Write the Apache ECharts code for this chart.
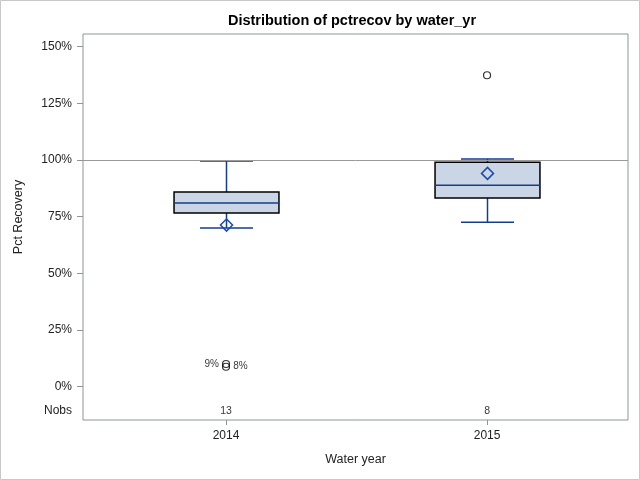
<!DOCTYPE html>
<html>
<head>
<meta charset="utf-8">
<script src="https://cdn.jsdelivr.net/npm/echarts@6/dist/echarts.min.js"></script>
<style>html,body{margin:0;padding:0;background:#fff}#c{width:640px;height:480px}</style>
</head>
<body>
<div id="c"></div>
<script>
// ---- data ----
var categories = ['2014', '2015'];
var whiskerLow = [70.0, 72.5];
var q1 = [76.6, 83.2];
var median = [81.0, 88.9];
var q3 = [85.9, 99.0];
var whiskerHigh = [99.6, 100.5];
var means = [71.3, 94.1];
var nobs = [13, 8];
var outlierCat = [0, 0, 1];
var outlierVal = [10.0, 8.8, 137.4];
var outlierLabel = ['9%', '8%', ''];
var outlierLabelPos = ['left', 'right', 'right'];
var yTicks = [0, 25, 50, 75, 100, 125, 150];
var refLine = 100;
var nobsRow = -10.7;

// ---- build ----
var FONT = '"Liberation Sans", Arial, sans-serif';
var BLUE = '#123E8E';
var boxData = categories.map(function (c, i) {
  return [i, whiskerLow[i], q1[i], median[i], q3[i], whiskerHigh[i], means[i]];
});
var outData = outlierVal.map(function (v, i) {
  return {
    value: [outlierCat[i], v],
    label: { show: outlierLabel[i] !== '', formatter: outlierLabel[i], position: outlierLabelPos[i] }
  };
});
var nobsData = nobs.map(function (n, i) { return { value: [i, nobsRow], label: { formatter: String(n) } }; });

function renderBox(params, api) {
  var x = api.value(0);
  var pMin = api.coord([x, api.value(1)]);
  var pQ1 = api.coord([x, api.value(2)]);
  var pMed = api.coord([x, api.value(3)]);
  var pQ3 = api.coord([x, api.value(4)]);
  var pMax = api.coord([x, api.value(5)]);
  var pMean = api.coord([x, api.value(6)]);
  var unit = api.size([1, 0])[0];
  var bw = unit * 0.402;
  var cw = unit * 0.203;
  var cx = Math.round(pMed[0]) + 0.5;
  var lineStyle = { stroke: BLUE, lineWidth: 1.5, fill: null };
  var d = 6;
  return {
    type: 'group',
    children: [
      { type: 'line', shape: { x1: cx, y1: pMax[1], x2: cx, y2: pQ3[1] }, style: lineStyle },
      { type: 'line', shape: { x1: cx, y1: pQ1[1], x2: cx, y2: pMin[1] }, style: lineStyle },
      { type: 'line', shape: { x1: cx - cw / 2, y1: pMax[1], x2: cx + cw / 2, y2: pMax[1] }, style: lineStyle },
      { type: 'line', shape: { x1: cx - cw / 2, y1: pMin[1], x2: cx + cw / 2, y2: pMin[1] }, style: lineStyle },
      { type: 'rect', shape: { x: cx - bw / 2, y: pQ3[1], width: bw, height: pQ1[1] - pQ3[1] },
        style: { fill: '#CAD5E5', stroke: '#000', lineWidth: 1.5 } },
      { type: 'line', shape: { x1: cx - bw / 2, y1: pMed[1], x2: cx + bw / 2, y2: pMed[1] }, style: lineStyle },
      { type: 'polygon', shape: { points: [[cx, pMean[1] - d], [cx + d, pMean[1]], [cx, pMean[1] + d], [cx - d, pMean[1]]] },
        style: { fill: 'rgba(0,0,0,0)', stroke: '#1A4BB5', lineWidth: 1.5 } }
    ]
  };
}

var chart = echarts.init(document.getElementById('c'));
chart.setOption({
  animation: false,
  backgroundColor: '#fff',
  title: {
    text: 'Distribution of pctrecov by water_yr',
    left: 347, top: 8, textAlign: 'center',
    textStyle: { fontFamily: FONT, fontSize: 14.5, fontWeight: 'bold', color: '#000' }
  },
  grid: { left: 83, right: 12, top: 34, bottom: 60, show: true, borderColor: '#8E959B', borderWidth: 1, backgroundColor: 'transparent' },
  xAxis: {
    type: 'value', min: -0.548, max: 1.54,
    name: 'Water year', nameLocation: 'middle', nameGap: 33,
    nameTextStyle: { fontFamily: FONT, fontSize: 12.5, color: '#222' },
    axisLine: { show: false, onZero: false },
    splitLine: { show: false },
    axisTick: { show: true, customValues: [0, 1], length: 5, lineStyle: { color: '#8E959B' } },
    axisLabel: { customValues: [0, 1], formatter: function (v) { return categories[Math.round(v)]; },
      fontFamily: FONT, fontSize: 12, color: '#222', margin: 10 }
  },
  yAxis: {
    type: 'value', min: -14.7, max: 155.6,
    axisLine: { show: false, onZero: false },
    splitLine: { show: false },
    axisTick: { show: true, customValues: yTicks, length: 6, lineStyle: { color: '#8E959B' } },
    axisLabel: { customValues: [nobsRow].concat(yTicks),
      formatter: function (v) { return v === nobsRow ? 'Nobs' : v + '%'; },
      fontFamily: FONT, fontSize: 12, color: '#222', margin: 11 }
  },
  graphic: [
    { type: 'rect', shape: { x: 0.5, y: 0.5, width: 639, height: 479 }, style: { fill: null, stroke: '#C8C8C8', lineWidth: 1 }, silent: true },
    { type: 'text', x: 19, y: 217, rotation: Math.PI / 2, style: { text: 'Pct Recovery', fontFamily: FONT, fontSize: 12.5, fill: '#222', align: 'center', verticalAlign: 'middle' } }
  ],
  series: [
    {
      type: 'custom', renderItem: renderBox, data: boxData, encode: { x: 0, y: [1, 2, 3, 4, 5, 6] }, z: 3,
      markLine: { silent: true, symbol: 'none', label: { show: false }, data: [{ yAxis: refLine }],
        lineStyle: { color: '#9A9A9A', type: 'solid', width: 1 } }
    },
    {
      type: 'scatter', data: outData, symbol: 'circle', symbolSize: 7, z: 4,
      itemStyle: { color: 'rgba(0,0,0,0)', borderColor: '#000', borderWidth: 1.2 },
      label: { fontFamily: FONT, fontSize: 10, color: '#000', distance: 3 }
    },
    {
      type: 'scatter', data: nobsData, symbolSize: 0, z: 4,
      label: { show: true, position: 'inside', fontFamily: FONT, fontSize: 10.5, color: '#000' }
    }
  ]
});
</script>
</body>
</html>
